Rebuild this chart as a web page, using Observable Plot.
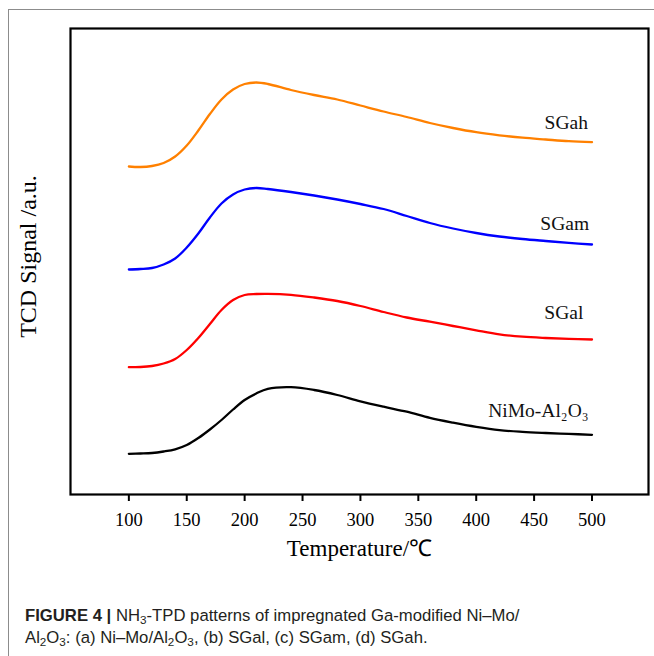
<!DOCTYPE html>
<html>
<head>
<meta charset="utf-8">
<script src="https://cdn.jsdelivr.net/npm/d3@7"></script>
<script src="https://cdn.jsdelivr.net/npm/@observablehq/plot@0.6"></script>
<style>
  html, body { margin: 0; padding: 0; background: #fff; }
  body { width: 654px; height: 656px; position: relative; overflow: hidden; }
  #border { position: absolute; left: 8px; top: 9px; width: 660px; height: 660px;
            border-top: 1.5px solid #8c8c8c; border-left: 1.5px solid #8c8c8c; }
  #chart { position: absolute; left: 0; top: 0; }
  #caption { position: absolute; left: 25px; top: 605px; width: 625px;
             font-family: "Liberation Sans", Arial, sans-serif; font-size: 16.7px;
             line-height: 21.5px; color: #231f20; }
  #caption sub { font-size: 70%; vertical-align: -0.28em; line-height: 0; }
</style>
</head>
<body>
<div id="border"></div>
<div id="chart"></div>
<div id="caption"><b>FIGURE 4 |</b> NH<sub>3</sub>-TPD patterns of impregnated Ga-modified Ni–Mo/<br>Al<sub>2</sub>O<sub>3</sub>: (a) Ni–Mo/Al<sub>2</sub>O<sub>3</sub>, (b) SGal, (c) SGam, (d) SGah.</div>
<script>
// Temperature (°C)
const temperature = [100,110,120,130,140,150,160,170,180,190,200,210,220,240,260,280,300,320,340,360,380,400,420,440,460,480,500];
// TCD signal (a.u., offset-stacked as in the figure)
const sgah = [328,327.5,328.5,331.5,338,349,364,380.5,395,405,410.5,412,410.5,404.5,399.5,395,389,383,377.5,371.5,366.5,362.3,359.2,356.8,355,353.3,352.3];
const sgam = [225,225.5,226.5,230,236,247,261,277,291,300,305,306.5,305.5,302.5,299,295,290.5,285.5,278.5,271.5,266,261.5,258,255.5,253.5,251.6,250];
const sgal = [127.3,127.5,128.5,131,135.5,144.5,156.5,170.5,184.5,194.5,199.5,200.5,200.7,199.7,197,193.5,188.5,182.5,177,172.8,168.5,164.2,160.2,157.8,156.5,155.6,155];
const nimo = [40.7,41,41.5,43,45.2,49.5,56.5,65,74.5,85,94.5,101,105.7,107.3,104.5,99.5,93.2,87.8,82.8,76.6,71.8,67.6,64.3,62.6,61.5,60.6,59.7];

const seriesNames = ["NiMo-Al₂O₃", "SGal", "SGam", "SGah"];
const seriesColors = ["#000000", "#ff0000", "#0000ff", "#ff8000"];
const seriesValues = [nimo, sgal, sgam, sgah];

// label positions (data units)
const labelX = [497, 492.5, 497.5, 496.5];
const labelY = [84, 181.3, 270.7, 371.7];

const xTicks = [100,150,200,250,300,350,400,450,500];

const rows = seriesNames.map((name, i) =>
  temperature.map((t, j) => ({t, signal: seriesValues[i][j], series: name})));
const labels = seriesNames.map((name, i) => ({name, x: labelX[i], y: labelY[i]}));

const font = "'Liberation Serif', 'Times New Roman', serif";

const plot = Plot.plot({
  width: 654,
  height: 580,
  marginLeft: 70,
  marginRight: 6,
  marginTop: 28,
  marginBottom: 86,
  style: { fontFamily: font, background: "transparent", color: "#000" },
  x: { domain: [49.6, 548.8] },
  y: { domain: [0, 466], axis: null },
  marks: [
    ...rows.map((r, i) => Plot.line(r, {
      x: "t", y: "signal", stroke: seriesColors[i], strokeWidth: 2.3, curve: "catmull-rom"
    })),
    Plot.text(labels, {
      x: "x", y: "y", text: "name", textAnchor: "end", fontSize: 19.5, fill: "#111", fontFamily: font
    }),
    Plot.frame({ stroke: "#000", strokeWidth: 2.2 }),
    Plot.axisX({
      ticks: xTicks, tickSize: 7, tickPadding: 11, strokeWidth: 2,
      fontSize: 18.5, label: null, tickFormat: d => String(d), fontFamily: font
    }),
    Plot.text(["Temperature/℃"], {
      frameAnchor: "bottom", textAnchor: "middle", dy: 61, fontSize: 23, fill: "#000", fontFamily: font
    }),
    Plot.text(["TCD Signal /a.u."], {
      frameAnchor: "left", textAnchor: "middle", rotate: -90, dx: -42, dy: -5, fontSize: 24, fill: "#000", fontFamily: font
    })
  ]
});
document.getElementById("chart").appendChild(plot);
</script>
</body>
</html>
